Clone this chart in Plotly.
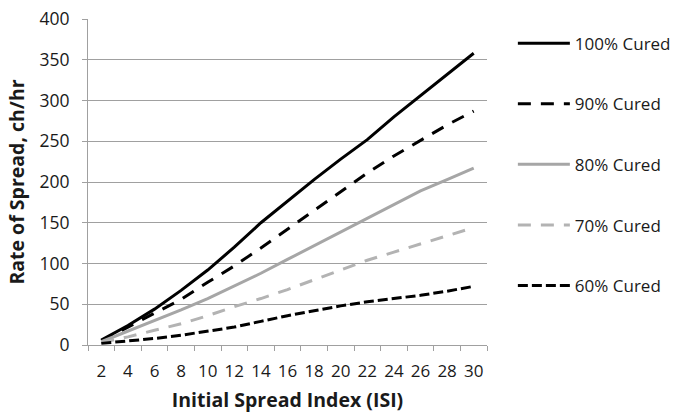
import plotly.graph_objects as go

# Initial Spread Index categories
isi = ["2", "4", "6", "8", "10", "12", "14", "16", "18", "20", "22", "24", "26", "28", "30"]

# Rate of spread (ch/hr) for each curing level
ros_100 = [6, 24, 44, 67, 92, 120, 150, 177, 203, 228, 252, 280, 306, 332, 358]
ros_90 = [5, 22, 38, 56, 77, 97, 119, 142, 165, 189, 211, 232, 251, 270, 287]
ros_80 = [4, 17, 30, 43, 57, 72, 88, 105, 122, 139, 156, 173, 189, 203, 217]
ros_70 = [3, 10, 18, 26, 36, 47, 57, 68, 80, 92, 104, 114, 124, 134, 144]
ros_60 = [2, 5, 8, 12, 17, 22, 29, 36, 42, 48, 53, 57, 61, 66, 72]

series = [
    ("100% Cured", ros_100, "#000000", "solid"),
    ("90% Cured", ros_90, "#000000", "13px,10px"),
    ("80% Cured", ros_80, "#a6a6a6", "solid"),
    ("70% Cured", ros_70, "#b3b3b3", "13px,10px"),
    ("60% Cured", ros_60, "#000000", "10px,4px"),
]

fig = go.Figure()
for name, vals, color, dash in series:
    fig.add_trace(go.Scatter(
        x=isi, y=vals, name=name, mode="lines", legendgroup=name,
        line=dict(color=color, width=3, dash=dash),
    ))

grid = "#a0a0a0"
fig.update_layout(
    width=682, height=413,
    margin=dict(l=88, r=195, t=19, b=68, autoexpand=False),
    paper_bgcolor="white", plot_bgcolor="white",
    font=dict(family="Open Sans, Lato, sans-serif", size=17, color="#1a1a1a"),
    showlegend=True,
    legend=dict(
        x=0.752, xanchor="left", xref="container", y=0.938, yanchor="top",
        yref="container", itemwidth=52, tracegroupgap=35.5, maxheight=400,
        font=dict(size=17, color="#1a1a1a"),
        bgcolor="rgba(0,0,0,0)",
    ),
    xaxis=dict(
        type="category", range=[-0.5, 14.5], tickson="boundaries",
        ticks="outside", ticklen=5, tickangle=0, automargin=False,
        tickcolor=grid, showline=True, linecolor=grid, linewidth=1,
        showgrid=False, ticklabelstandoff=11,
        tickfont=dict(size=17),
        title=dict(text="<b>Initial Spread Index (ISI)</b>", font=dict(size=19.5), standoff=14),
    ),
    yaxis=dict(
        range=[0, 400], dtick=50, ticks="outside", ticklen=5, tickcolor=grid,
        showline=True, linecolor=grid, linewidth=1, zeroline=False,
        showgrid=True, gridcolor=grid, gridwidth=1, ticklabelstandoff=9,
        automargin=False, tickfont=dict(size=17.5),
        title=dict(text="<b>Rate of Spread, ch/hr</b>", font=dict(size=19.5), standoff=9),
    ),
)

fig.write_html("out.html")
